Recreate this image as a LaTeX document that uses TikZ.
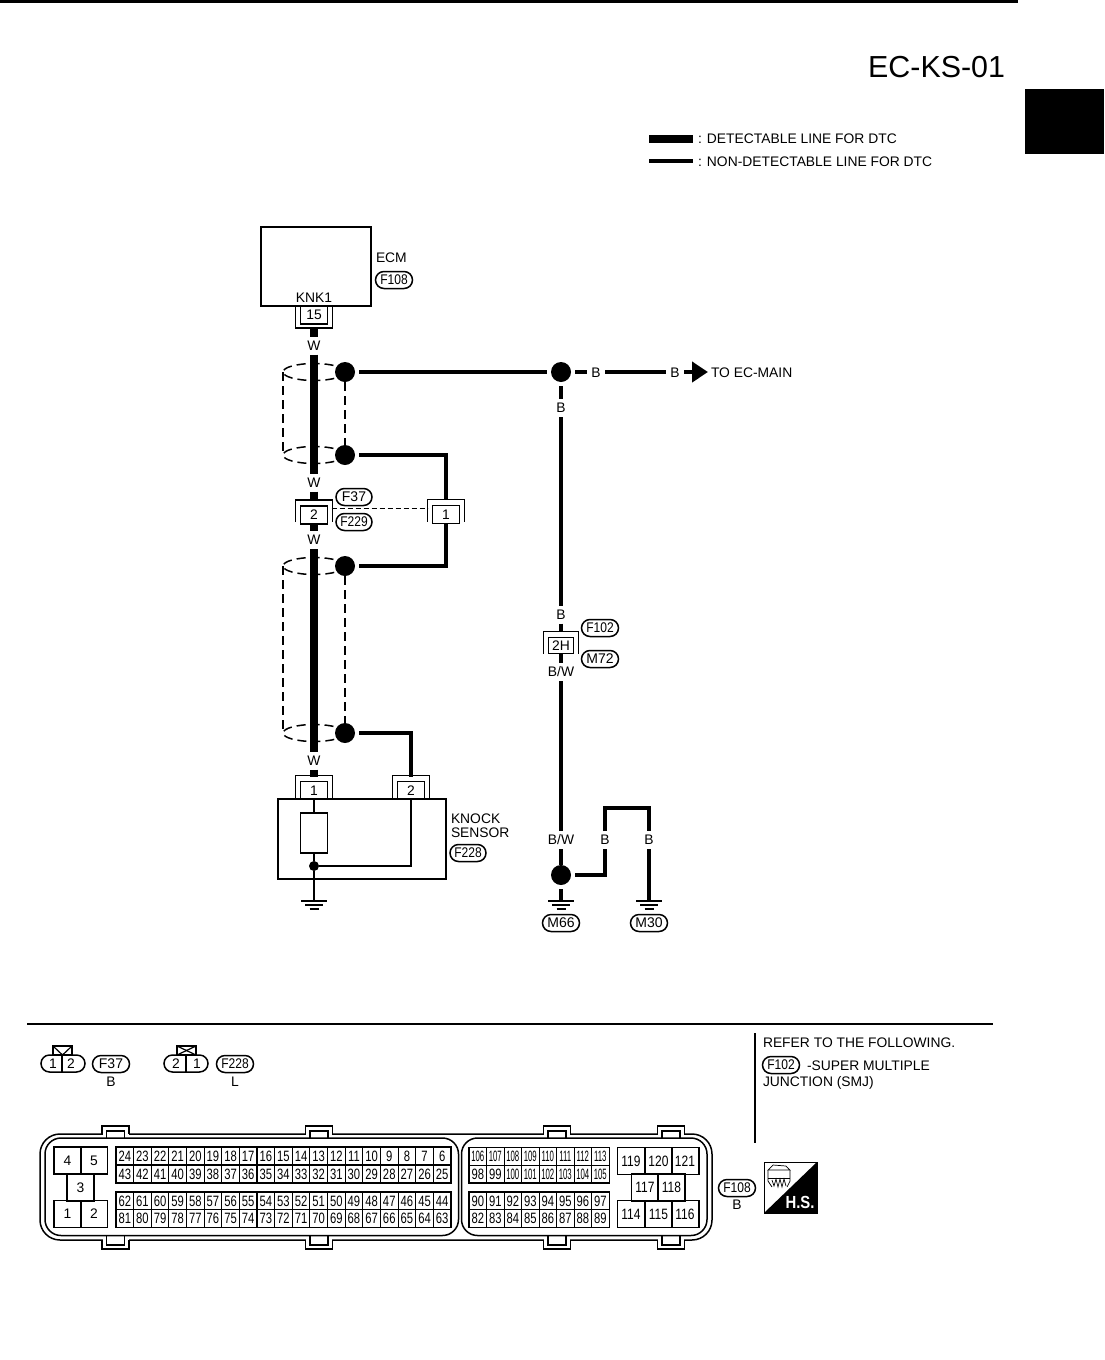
\documentclass[tikz,border=0pt]{standalone}
\usepackage{fontspec}
\setmainfont{Liberation Sans}
\usetikzlibrary{arrows.meta}
\tikzset{
	every node/.style = {font=\fontsize{13.85}{14}\selectfont, inner sep=0pt, outer sep=0pt},
	fatwire/.style = {line width=8pt},
	midwire/.style = {line width=4.6pt},
	sensorwire/.style = {line width=1.6pt},
	shieldline/.style = {line width=1.5pt, dash pattern=on 9pt off 5pt},
	bracket/.style = {line width=1.7pt},
	wiredot/.style = {circle, fill=black, minimum size=20pt},
	wirelabel/.style = {minimum width=18pt, minimum height=18pt},
	pinbox/.style = {draw, fill=white, line width=1.7pt, minimum width=27pt, minimum height=18pt},
	tagpill/.style = {draw, line width=1.5pt, rounded corners=8.5pt, minimum width=37pt, minimum height=17pt, font=\fontsize{14}{14}\selectfont},
	gridpin/.style = {draw, line width=1.1pt, minimum width=17.6pt, minimum height=17.8pt, font=\fontsize{15}{15}\selectfont},
	bigpin/.style = {draw, line width=1.5pt, minimum width=26.6pt, minimum height=26.6pt},
	widepin/.style = {bigpin, font=\fontsize{15}{15}\selectfont}
}
\newcommand{\capup}[1]{\draw[bracket] ([shift={(-5,16)}]#1.north west) -- ([shift={(-5,-6)}]#1.north west) -- ([shift={(5,-6)}]#1.north east) -- ([shift={(5,16)}]#1.north east);}
\newcommand{\capdown}[1]{\draw[bracket] ([shift={(-5,-17)}]#1.south west) -- ([shift={(-5,4)}]#1.south west) -- ([shift={(5,4)}]#1.south east) -- ([shift={(5,-17)}]#1.south east);}
\newcommand{\pinnum}[1]{\ifnum#1>99 \scalebox{.52}[1]{#1}\else\scalebox{.75}[1]{#1}\fi}
\newcommand{\tagnum}[1]{\scalebox{.86}[1]{#1}}
\begin{document}
\begin{tikzpicture}[x=1pt, y=-1pt]
	\useasboundingbox (0,0) rectangle (1104,1360);
	\fill[white] (0,0) rectangle (1104,1360);
	\fill (0,0) rectangle (1018,3);
	\fill (1025,89) rectangle (1104,153.5);
	\node[anchor=east, font=\fontsize{30.4}{32}\selectfont] (title) at (1005,67.5) {EC-KS-01};

	% key
	\coordinate (keyFatEnd) at (649,139);
	\coordinate (keyMidEnd) at (649,161);
	\node[anchor=west] (keyFat) at (698,139) {: DETECTABLE LINE FOR DTC};
	\node[anchor=west] (keyMid) at (698,161.5) {: NON-DETECTABLE LINE FOR DTC};
	\draw[fatwire, shorten >=5pt] (keyFatEnd) -- (keyFat);
	\draw[midwire, shorten >=5pt] (keyMidEnd) -- (keyMid.west |- keyMidEnd);

	% shields
	\coordinate (shieldA) at (283,372);
	\coordinate (shieldB) at (283,455);
	\coordinate (shieldC) at (283,566);
	\coordinate (shieldD) at (283,733);
	\foreach \yy in {372,455,566,733}
		\draw[shieldline] (314,\yy) ellipse (31pt and 8.5pt);
	\draw[shieldline] (shieldA) -- (shieldB);
	\draw[shieldline] (shieldC) -- (shieldD);

	% ECM
	\node[draw, line width=1.6pt, minimum width=110pt, minimum height=79pt] (ecm) at (316,266.5) {};
	\node (knk) at (314,298) {KNK1};
	\node[anchor=west] (ecmName) at (376,258) {ECM};
	\node[tagpill] (tagEcm) at (394,280) {\tagnum{F108}};
	\node[pinbox] (pinEcm) at (314,315) {15};
	\capdown{pinEcm}

	% inline connectors
	\node[pinbox] (pinInA) at (314,515) {2};
	\capup{pinInA}
	\node[pinbox] (pinInB) at (446,514.5) {1};
	\capup{pinInB}
	\node[tagpill, minimum width=36pt] (tagFa) at (354,497) {F37};
	\node[tagpill, minimum width=36pt] (tagFb) at (354,522) {\tagnum{F229}};
	\draw[line width=1.5pt, dash pattern=on 5pt off 3pt] ([shift={(4,-6.5)}]pinInA.east) -- ([shift={(-5,-6)}]pinInB.west);

	% dots
	\node[wiredot] (dotA) at (345,372) {};
	\node[wiredot] (dotB) at (345,455) {};
	\node[wiredot] (dotC) at (345,566) {};
	\node[wiredot] (dotD) at (345,733) {};
	\node[wiredot] (dotE) at (561,372) {};
	\node[wiredot] (dotF) at (561,875) {};
	\draw[shieldline] (dotA) -- (dotB);
	\draw[shieldline] (dotC) -- (dotD);

	% W wire
	\node[wirelabel] (lbWa) at (314,345.5) {W};
	\node[wirelabel] (lbWb) at (314,482.5) {W};
	\node[wirelabel] (lbWc) at (314,540) {W};
	\node[wirelabel] (lbWd) at (314,760.5) {W};
	\node[pinbox] (pinSa) at (314,790.5) {1};
	\capup{pinSa}
	\node[pinbox] (pinSb) at (411,790.5) {2};
	\capup{pinSb}
	\draw[fatwire, shorten <=4pt] (pinEcm) -- (lbWa);
	\draw[fatwire] (lbWa) -- (lbWb);
	\draw[fatwire, shorten >=6pt] (lbWb) -- (pinInA);
	\draw[fatwire] (pinInA) -- (lbWc);
	\draw[fatwire] (lbWc) -- (lbWd);
	\draw[fatwire, shorten >=5pt] (lbWd) -- (pinSa);

	% shield drains
	\draw[midwire, shorten <=4pt, shorten >=6pt] (dotB) -| (pinInB);
	\draw[midwire, shorten >=4pt] (pinInB) |- (dotC);
	\draw[midwire, shorten <=4pt, shorten >=5pt] (dotD) -| (pinSb);

	% B wire
	\node[wirelabel] (lbBa) at (596,372.5) {B};
	\node[wirelabel] (lbBb) at (675,372.5) {B};
	\node[anchor=west] (toMain) at (708,372.5) {\hspace{3pt}TO EC-MAIN};
	\draw[midwire, shorten <=4pt, shorten >=4pt] (dotA) -- (dotE);
	\draw[midwire, shorten <=4pt] (dotE) -- (dotE -| lbBa.west);
	\draw[midwire] (lbBa.east |- dotE) -- (lbBb.west |- dotE);
	\draw[midwire, -{Triangle[length=16pt, width=20pt]}] (lbBb.east |- dotE) -- (toMain.west |- dotE);
	\node[wirelabel] (lbBc) at (561,408) {B};
	\node[wirelabel] (lbBd) at (561,614.5) {B};
	\node[wirelabel] (lbBWa) at (561,672) {B/W};
	\node[wirelabel] (lbBWb) at (561,840) {B/W};
	\node[pinbox, minimum width=25pt, minimum height=16pt] (pinJoint) at (561,645.5) {2H};
	\capup{pinJoint}
	\node[tagpill] (tagJa) at (600,628) {\tagnum{F102}};
	\node[tagpill] (tagJb) at (600,659) {M72};
	\draw[midwire, shorten <=4pt] (dotE) -- (lbBc);
	\draw[midwire] (lbBc) -- (lbBd);
	\draw[midwire, shorten >=6pt] (lbBd) -- (pinJoint);
	\draw[midwire] (pinJoint) -- (lbBWa);
	\draw[midwire] (lbBWa) -- (lbBWb);
	\draw[midwire] (lbBWb) -- (dotF);

	% grounds
	\coordinate (gndA) at (314,901);
	\coordinate (gndB) at (561,901);
	\coordinate (gndC) at (649,901);
	\foreach \gnd in {gndA,gndB,gndC} {
		\draw[line width=1.5pt] ([shift={(-13,0)}]\gnd) -- ([shift={(13,0)}]\gnd);
		\draw[line width=1.5pt] ([shift={(-9,4)}]\gnd) -- ([shift={(9,4)}]\gnd);
		\draw[line width=1.5pt] ([shift={(-4.5,8)}]\gnd) -- ([shift={(4.5,8)}]\gnd);
	}
	\node[wirelabel] (lbBe) at (605,840) {B};
	\node[wirelabel] (lbBf) at (649,840) {B};
	\coordinate (loopL) at (605,808);
	\coordinate (loopR) at (649,808);
	\draw[midwire, shorten <=4pt] (dotF) -- (gndB);
	\draw[midwire, shorten <=4pt] (dotF) -| (lbBe);
	\draw[midwire] (lbBe) -- (loopL) -- (loopR) -- (lbBf);
	\draw[midwire] (lbBf) -- (gndC);
	\node[tagpill] (tagGa) at (561,923) {M66};
	\node[tagpill] (tagGb) at (649,923) {M30};

	% knock sensor
	\node[draw, line width=1.6pt, minimum width=168pt, minimum height=80pt] (sensor) at (362,839) {};
	\node[draw, line width=1.6pt, minimum width=27pt, minimum height=40pt] (element) at (314,833) {};
	\node[circle, fill=black, minimum size=10pt] (sensorJoint) at (314,866) {};
	\draw[sensorwire] (pinSa) -- (element);
	\draw[sensorwire] (element) -- (sensorJoint);
	\draw[sensorwire] (sensorJoint) -- (gndA);
	\draw[sensorwire] (sensorJoint) -| (pinSb);
	\node[anchor=west, align=left] (sensorName) at (451,825.5) {KNOCK\\SENSOR};
	\node[tagpill, minimum width=36pt] (tagSensor) at (468,853) {\tagnum{F228}};

	% lower part
	\coordinate (ruleL) at (27,1024);
	\coordinate (ruleR) at (993,1024);
	\coordinate (ruleT) at (755,1033);
	\coordinate (ruleB) at (755,1143);
	\draw[line width=1.6pt] (ruleL) -- (ruleR);
	\draw[line width=1.6pt] (ruleT) -- (ruleB);
	\node[anchor=west] (refA) at (763,1042.5) {REFER TO THE FOLLOWING.};
	\node[tagpill] (tagRef) at (781,1065) {\tagnum{F102}};
	\node[anchor=west] (refB) at (807,1065.5) {-SUPER MULTIPLE};
	\node[anchor=west] (refC) at (763,1082.5) {JUNCTION (SMJ)};

	% small connectors
	\node[tagpill, minimum width=44pt] (plugA) at (63,1063.5) {};
	\draw[bracket] (62,1055) -- (62,1072);
	\node (plugAa) at (53,1064) {1};
	\node (plugAb) at (71,1064) {2};
	\draw[bracket] (53,1055) -- (53,1046) -- (72,1046) -- (72,1055) -- (62.5,1055) -- cycle;
	\draw[line width=1.2pt] (53,1046) -- (62.5,1055) -- (72,1046);
	\node[tagpill] (tagPa) at (111,1064) {F37};
	\node (colA) at (111,1082) {B};
	\node[tagpill, minimum width=44pt] (plugB) at (186,1063.5) {};
	\draw[bracket] (186,1055) -- (186,1072);
	\node (plugBa) at (176,1064) {2};
	\node (plugBb) at (197,1064) {1};
	\draw[bracket] (177,1046) rectangle (196,1055);
	\draw[line width=1.2pt] (177,1046) -- (196,1055);
	\draw[line width=1.2pt] (177,1055) -- (196,1046);
	\node[tagpill] (tagPb) at (235,1064) {\tagnum{F228}};
	\node (colB) at (235,1082) {L};

	% ECM connector
	\draw[line width=1.5pt, rounded corners=20pt] (40,1134) rectangle (712,1240);
	\draw[line width=1.5pt, rounded corners=16pt] (45,1138) rectangle (458.5,1235.5);
	\draw[line width=1.5pt, rounded corners=16pt] (461.5,1138) rectangle (707,1235.5);
	\foreach \cc in {115.5,319,557,671} {
		\fill[white] (\cc-13,1128) rectangle (\cc+13,1137);
		\fill[white] (\cc-13,1237) rectangle (\cc+13,1247);
		\draw[line width=1.5pt] (\cc-13.5,1134) -- (\cc-13.5,1126) -- (\cc+13.5,1126) -- (\cc+13.5,1134);
		\draw[line width=1.5pt] (\cc-9,1138) -- (\cc-9,1131) -- (\cc+9,1131) -- (\cc+9,1138);
		\draw[line width=1.5pt] (\cc-13.5,1240) -- (\cc-13.5,1249) -- (\cc+13.5,1249) -- (\cc+13.5,1240);
		\draw[line width=1.5pt] (\cc-9,1235.5) -- (\cc-9,1245) -- (\cc+9,1245) -- (\cc+9,1235.5);
	}
	\node[bigpin] (pa4) at (67.5,1160.5) {4};
	\node[bigpin] (pa5) at (94,1160.5) {5};
	\node[bigpin] (pa3) at (80.5,1187.5) {3};
	\node[bigpin] (pa1) at (67.5,1214) {1};
	\node[bigpin] (pa2) at (94,1214) {2};
	\foreach \n [count=\i from 0] in {24,23,...,6}
		\node[gridpin] (pb\n) at ({124.8+17.63*\i},1156) {\pinnum{\n}};
	\foreach \n [count=\i from 0] in {43,42,...,25}
		\node[gridpin] (pb\n) at ({124.8+17.63*\i},1174) {\pinnum{\n}};
	\foreach \n [count=\i from 0] in {62,61,...,44}
		\node[gridpin] (pb\n) at ({124.8+17.63*\i},1201) {\pinnum{\n}};
	\foreach \n [count=\i from 0] in {81,80,...,63}
		\node[gridpin] (pb\n) at ({124.8+17.63*\i},1218.5) {\pinnum{\n}};
	\foreach \n [count=\i from 0] in {106,107,...,113}
		\node[gridpin, minimum width=17.5pt] (pc\n) at ({477.8+17.5*\i},1156.5) {\pinnum{\n}};
	\foreach \n [count=\i from 0] in {98,99,...,105}
		\node[gridpin, minimum width=17.5pt] (pc\n) at ({477.8+17.5*\i},1174) {\pinnum{\n}};
	\foreach \n [count=\i from 0] in {90,91,...,97}
		\node[gridpin, minimum width=17.5pt] (pc\n) at ({477.8+17.5*\i},1201) {\pinnum{\n}};
	\foreach \n [count=\i from 0] in {82,83,...,89}
		\node[gridpin, minimum width=17.5pt] (pc\n) at ({477.8+17.5*\i},1218.5) {\pinnum{\n}};
	\draw[line width=1.7pt] (116,1147) rectangle (451,1183);
	\draw[line width=1.7pt] (116,1192) rectangle (451,1227.5);
	\draw[line width=1.7pt] (469,1147.5) rectangle (609.5,1183);
	\draw[line width=1.7pt] (469,1192) rectangle (609.5,1227.5);
	\foreach \n/\xx in {119/631,120/658.5,121/685}
		\node[widepin, minimum width=27.5pt] (pd\n) at (\xx,1161) {\scalebox{.8}[1]{\n}};
	\foreach \n/\xx in {117/645,118/671.5}
		\node[widepin] (pd\n) at (\xx,1187.5) {\scalebox{.8}[1]{\n}};
	\foreach \n/\xx in {114/631,115/658.5,116/685}
		\node[widepin, minimum width=27.5pt] (pd\n) at (\xx,1214) {\scalebox{.8}[1]{\n}};
	\node[tagpill] (tagConn) at (737,1188) {\tagnum{F108}};
	\node (colC) at (737,1205) {B};

	% H.S. mark
	\draw[line width=1pt] (764,1162) rectangle (817,1213);
	\fill (817,1162) -- (817,1213) -- (764,1213) -- cycle;
	\node[text=white] (hsMark) at (800,1202.5) {\scalebox{.85}[1]{\bfseries\fontsize{17.5}{17.5}\selectfont H.S.}};
	\draw[line width=.7pt] (768,1170) -- (773,1165) -- (786,1166) -- (790,1170) -- cycle;
	\draw[line width=.7pt] (768,1170) -- (768,1181) -- (772,1187);
	\draw[line width=.7pt] (790,1170) -- (790,1181) -- (787,1187);
	\draw[line width=.7pt] (768,1178) -- (790,1178);
	\draw[line width=.7pt] (772,1180) -- (774,1186) -- (776,1179) -- (778,1187) -- (780,1179) -- (782,1187) -- (784,1179) -- (786,1186);
\end{tikzpicture}
\end{document}
